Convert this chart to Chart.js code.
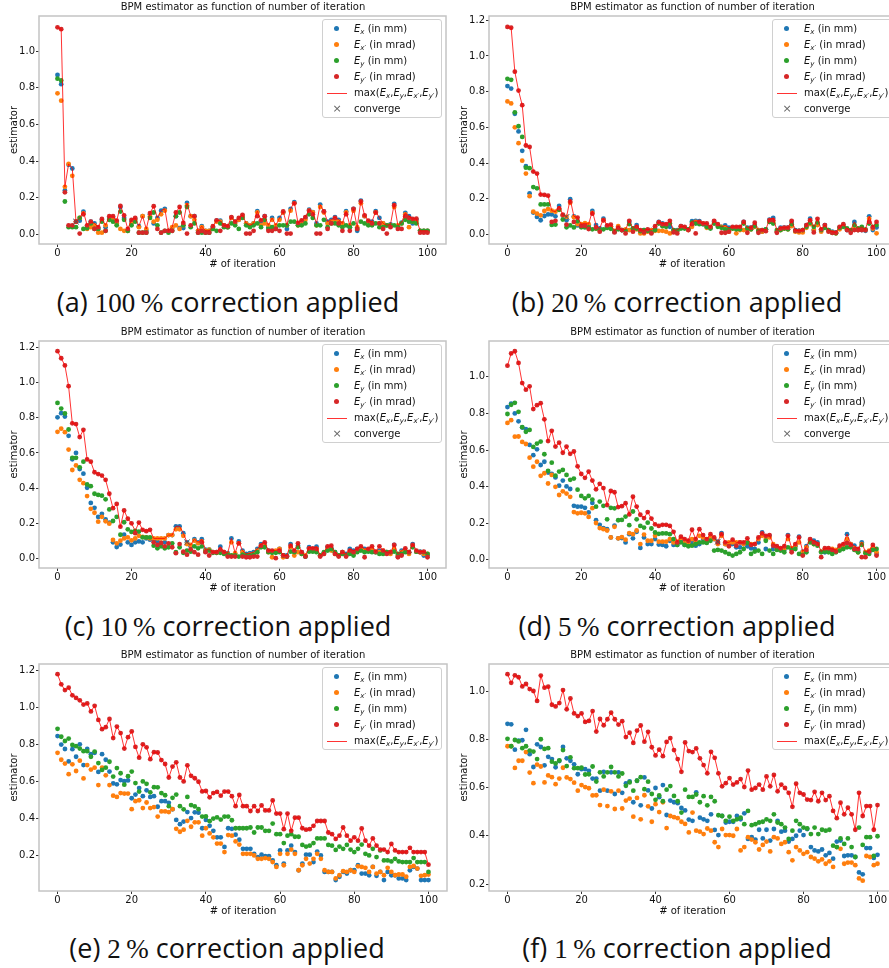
<!DOCTYPE html>
<html>
<head>
<meta charset="utf-8">
<script src="https://cdn.jsdelivr.net/npm/chart.js@4.4.1/dist/chart.umd.min.js"></script>
<style>
  body { margin: 0; width: 889px; height: 968px; overflow: hidden; background: #fff; position: relative; font-family: "DejaVu Sans", sans-serif; }
  canvas { position: absolute; }
  .title { position: absolute; font-size: 10px; line-height: 12px; color: #111; text-align: center; white-space: nowrap; }
  .legend { position: absolute; border: 1px solid #d0d0d0; border-radius: 3px; background: rgba(255,255,255,0.85); font-size: 10px; color: #111; box-sizing: border-box; padding-top: 1px; overflow: hidden; white-space: nowrap; }
  .legend .row { position: relative; height: 16px; line-height: 16px; padding-left: 31px; }
  .legend .dot { position: absolute; left: 11px; top: 5px; width: 5px; height: 5px; border-radius: 50%; }
  .legend .seg { position: absolute; left: 4px; top: 8px; width: 20px; height: 1px; background: rgba(255,0,0,0.8); }
  .legend .cross { position: absolute; left: 8px; top: 0; width: 12px; text-align: center; color: #666; font-size: 11px; }
  .legend sub { font-size: 7px; vertical-align: -2px; line-height: 0; }
  .caption { position: absolute; font-family: "Open Sans", sans-serif; font-size: 27px; line-height: 30px; color: #111; white-space: nowrap; transform: translateX(-50%); }
  .caption .num { font-family: "Liberation Serif", serif; font-size: 27px; }
</style>
</head>
<body>
<script>
// x values: iteration number
const iterations = Array.from({ length: 101 }, (_, i) => i);
const xTicks = [0, 20, 40, 60, 80, 100];

// (a) 100 % correction
const exA = [0.87,0.82,0.24,0.38,0.36,0.07,0.075,0.125,0.04,0.07,
  0.06,0.03,0.08,0.04,0.09,0.09,0.07,0.15,0.09,0.02,
  0.07,0.085,0.045,0.1,0.02,0.11,0.06,0.09,0.13,0.14,
  0.02,0.035,0.1,0.035,0.035,0.172,0.1,0.1,0.02,0.045,
  0.02,0.02,0.04,0.075,0.075,0.05,0.04,0.09,0.07,0.08,
  0.1,0.06,0.05,0.06,0.127,0.07,0.1,0.04,0.09,0.04,
  0.09,0.12,0.03,0.14,0.176,0.06,0.07,0.09,0.135,0.122,
  0.06,0.163,0.126,0.07,0.08,0.095,0.08,0.06,0.127,0.04,
  0.14,0.02,0.185,0.1,0.07,0.07,0.127,0.09,0.06,0.05,
  0.055,0.167,0.045,0.065,0.118,0.1,0.06,0.08,0.02,0.02,
  0.02];
const expA = [0.77,0.73,0.26,0.385,0.32,0.07,0.09,0.115,0.03,0.04,
  0.05,0.01,0.01,0.05,0.08,0.08,0.06,0.03,0.02,0.02,
  0.06,0.08,0.04,0.1,0.03,0.1,0.07,0.08,0.11,0.13,
  0.02,0.04,0.05,0.03,0.05,0.16,0.1,0.08,0.02,0.04,
  0.02,0.02,0.03,0.07,0.07,0.05,0.04,0.09,0.06,0.08,
  0.1,0.06,0.05,0.06,0.12,0.05,0.06,0.05,0.08,0.05,
  0.08,0.12,0.05,0.13,0.17,0.05,0.06,0.08,0.13,0.12,
  0.05,0.15,0.12,0.06,0.07,0.08,0.07,0.06,0.12,0.05,
  0.13,0.04,0.17,0.1,0.06,0.06,0.12,0.06,0.06,0.05,
  0.05,0.15,0.05,0.06,0.11,0.04,0.07,0.07,0.02,0.02,
  0.02];
const eyA = [0.85,0.84,0.18,0.04,0.04,0.04,0.09,0.03,0.035,0.06,
  0.03,0.03,0.07,0.02,0.08,0.07,0.05,0.125,0.08,0.02,
  0.05,0.07,0.01,0.01,0.01,0.09,0.12,0.05,0.01,0.02,
  0.01,0.02,0.1,0.12,0.05,0.15,0.04,0.06,0.01,0.01,
  0.01,0.01,0.03,0.02,0.06,0.04,0.04,0.06,0.05,0.03,
  0.09,0.05,0.04,0.05,0.06,0.04,0.08,0.03,0.04,0.03,
  0.05,0.05,0.05,0.07,0.07,0.05,0.05,0.06,0.11,0.09,
  0.05,0.05,0.08,0.04,0.06,0.06,0.05,0.04,0.05,0.04,
  0.06,0.03,0.07,0.06,0.05,0.05,0.06,0.04,0.04,0.05,
  0.05,0.05,0.04,0.06,0.08,0.07,0.07,0.06,0.02,0.02,
  0.02];
const eypA = [1.13,1.12,0.23,0.05,0.05,0.07,0.005,0.11,0.05,0.07,
  0.03,0.04,0.085,0.02,0.1,0.1,0.075,0.156,0.104,0.03,
  0.08,0.09,0.01,0.01,0.01,0.117,0.154,0.03,0.01,0.02,
  0.02,0.02,0.12,0.15,0.063,0.005,0.05,0.1,0.01,0.02,
  0.01,0.01,0.045,0.077,0.02,0.05,0.045,0.095,0.07,0.09,
  0.107,0.005,0.005,0.02,0.1,0.077,0.1,0.02,0.02,0.03,
  0.02,0.126,0.005,0.005,0.17,0.063,0.077,0.095,0.13,0.11,
  0.005,0.005,0.126,0.03,0.06,0.09,0.06,0.02,0.11,0.02,
  0.14,0.03,0.18,0.104,0.075,0.06,0.12,0.06,0.03,0.005,
  0.04,0.16,0.03,0.03,0.1,0.09,0.085,0.086,0.01,0.01,
  0.01];

// (b) 20 % correction
const exB = [0.831,0.817,0.676,0.577,0.468,0.382,0.230,0.122,0.098,0.079,
  0.103,0.112,0.112,0.101,0.159,0.105,0.079,0.197,0.101,0.050,
  0.052,0.057,0.048,0.131,0.052,0.033,0.088,0.046,0.046,0.015,
  0.033,0.024,0.024,0.070,0.033,0.052,0.015,0.024,0.024,0.024,
  0.033,0.070,0.061,0.052,0.042,0.024,0.024,0.046,0.037,0.028,
  0.074,0.075,0.074,0.057,0.042,0.037,0.072,0.052,0.042,0.050,
  0.037,0.037,0.031,0.033,0.070,0.037,0.037,0.052,0.024,0.015,
  0.028,0.083,0.092,0.015,0.037,0.037,0.037,0.070,0.024,0.020,
  0.024,0.052,0.088,0.024,0.057,0.024,0.052,0.024,0.015,0.011,
  0.037,0.052,0.024,0.020,0.070,0.024,0.024,0.020,0.101,0.024,
  0.039];
const expB = [0.745,0.734,0.600,0.511,0.413,0.341,0.214,0.127,0.116,0.107,
  0.131,0.142,0.133,0.127,0.140,0.107,0.098,0.177,0.096,0.057,
  0.057,0.063,0.057,0.120,0.033,0.024,0.079,0.037,0.046,0.020,
  0.046,0.024,0.028,0.024,0.024,0.028,0.005,0.005,0.015,0.024,
  0.020,0.020,0.020,0.015,0.005,0.015,0.020,0.042,0.037,0.024,
  0.042,0.070,0.065,0.061,0.037,0.037,0.065,0.052,0.042,0.037,
  0.015,0.033,0.006,0.024,0.024,0.028,0.028,0.042,0.024,0.015,
  0.024,0.070,0.070,0.015,0.024,0.033,0.028,0.046,0.015,0.011,
  0.011,0.037,0.057,0.024,0.052,0.015,0.042,0.020,0.011,0.006,
  0.028,0.046,0.028,0.020,0.033,0.024,0.028,0.024,0.088,0.033,
  0.006];
const eyB = [0.872,0.866,0.684,0.606,0.546,0.374,0.371,0.265,0.258,0.168,
  0.168,0.168,0.053,0.055,0.138,0.083,0.040,0.050,0.039,0.074,
  0.040,0.039,0.039,0.028,0.033,0.024,0.028,0.037,0.031,0.015,
  0.028,0.024,0.020,0.057,0.033,0.033,0.018,0.024,0.020,0.011,
  0.024,0.061,0.046,0.042,0.061,0.024,0.020,0.033,0.033,0.028,
  0.065,0.061,0.057,0.057,0.042,0.033,0.061,0.042,0.037,0.028,
  0.028,0.033,0.028,0.028,0.061,0.033,0.028,0.046,0.020,0.024,
  0.028,0.070,0.061,0.024,0.024,0.033,0.028,0.057,0.020,0.020,
  0.024,0.042,0.065,0.042,0.067,0.024,0.037,0.024,0.009,0.006,
  0.037,0.042,0.033,0.024,0.052,0.033,0.042,0.028,0.061,0.042,
  0.052];
const eypB = [1.163,1.158,0.912,0.806,0.724,0.498,0.490,0.352,0.341,0.223,
  0.221,0.217,0.070,0.076,0.146,0.110,0.055,0.183,0.070,0.094,
  0.048,0.048,0.030,0.116,0.039,0.015,0.079,0.050,0.055,0.011,
  0.037,0.024,0.005,0.076,0.015,0.042,0.024,0.011,0.028,0.005,
  0.046,0.068,0.057,0.057,0.076,0.011,0.005,0.046,0.042,0.024,
  0.057,0.005,0.070,0.061,0.061,0.042,0.076,0.057,0.009,0.009,
  0.015,0.042,0.042,0.042,0.070,0.009,0.037,0.065,0.009,0.024,
  0.018,0.079,0.079,0.009,0.033,0.037,0.037,0.076,0.020,0.020,
  0.024,0.052,0.079,0.011,0.087,0.028,0.052,0.015,0.009,0.009,
  0.042,0.057,0.024,0.009,0.024,0.024,0.024,0.024,0.070,0.039,
  0.070];

// (c) 10 % correction
const exC = [0.802,0.826,0.807,0.697,0.564,0.600,0.508,0.482,0.402,0.316,
  0.288,0.236,0.254,0.222,0.204,0.092,0.065,0.079,0.135,0.092,
  0.077,0.092,0.097,0.092,0.114,0.107,0.105,0.099,0.086,0.092,
  0.133,0.133,0.183,0.183,0.144,0.092,0.069,0.110,0.092,0.110,
  0.050,0.050,0.036,0.036,0.067,0.036,0.030,0.114,0.026,0.097,
  0.045,0.026,0.030,0.036,0.054,0.082,0.082,0.045,0.039,0.039,
  0.054,0.017,0.017,0.082,0.039,0.073,0.036,0.011,0.064,0.050,
  0.067,0.017,0.030,0.064,0.058,0.036,0.017,0.036,0.026,0.054,
  0.045,0.054,0.058,0.054,0.045,0.054,0.036,0.045,0.036,0.036,
  0.036,0.077,0.011,0.045,0.039,0.036,0.082,0.039,0.039,0.017,
  0.017];
const expC = [0.720,0.738,0.718,0.619,0.503,0.529,0.447,0.428,0.355,0.282,
  0.260,0.209,0.237,0.211,0.198,0.105,0.086,0.101,0.114,0.120,
  0.103,0.114,0.129,0.123,0.120,0.114,0.114,0.114,0.114,0.114,
  0.133,0.133,0.166,0.166,0.129,0.082,0.077,0.101,0.086,0.097,
  0.045,0.050,0.036,0.032,0.039,0.036,0.026,0.092,0.030,0.086,
  0.036,0.017,0.022,0.026,0.045,0.073,0.073,0.036,0.007,0.045,
  0.054,0.007,0.011,0.064,0.017,0.036,0.026,0.017,0.054,0.045,
  0.054,0.017,0.026,0.054,0.045,0.026,0.017,0.036,0.017,0.036,
  0.026,0.045,0.058,0.045,0.045,0.054,0.036,0.036,0.045,0.036,
  0.026,0.054,0.017,0.036,0.045,0.026,0.073,0.039,0.036,0.026,
  0.026];
const eyC = [0.884,0.852,0.824,0.733,0.572,0.572,0.518,0.550,0.421,0.411,
  0.368,0.361,0.357,0.336,0.279,0.213,0.236,0.135,0.206,0.166,
  0.151,0.157,0.153,0.120,0.120,0.120,0.073,0.058,0.069,0.058,
  0.064,0.086,0.036,0.064,0.032,0.045,0.039,0.069,0.058,0.069,
  0.039,0.045,0.032,0.032,0.032,0.026,0.022,0.017,0.017,0.011,
  0.022,0.017,0.017,0.022,0.036,0.064,0.064,0.036,0.032,0.032,
  0.036,0.017,0.011,0.039,0.036,0.064,0.026,0.011,0.039,0.039,
  0.036,0.017,0.036,0.045,0.054,0.036,0.017,0.026,0.017,0.026,
  0.017,0.036,0.045,0.036,0.039,0.036,0.036,0.026,0.026,0.036,
  0.036,0.039,0.026,0.026,0.036,0.036,0.064,0.039,0.036,0.036,
  0.026];
const eypC = [1.178,1.138,1.097,0.979,0.768,0.764,0.690,0.731,0.563,0.550,
  0.490,0.480,0.471,0.447,0.368,0.286,0.310,0.181,0.273,0.226,
  0.200,0.144,0.204,0.163,0.155,0.163,0.092,0.077,0.088,0.069,
  0.086,0.064,0.030,0.082,0.039,0.022,0.052,0.036,0.022,0.092,
  0.036,0.017,0.036,0.036,0.050,0.036,0.011,0.011,0.011,0.086,
  0.011,0.007,0.007,0.011,0.011,0.073,0.092,0.045,0.045,0.002,
  0.045,0.017,0.011,0.073,0.045,0.086,0.036,0.011,0.058,0.058,
  0.054,0.011,0.026,0.069,0.073,0.026,0.011,0.036,0.011,0.045,
  0.036,0.054,0.069,0.007,0.054,0.069,0.039,0.069,0.045,0.026,
  0.036,0.077,0.007,0.017,0.058,0.036,0.077,0.045,0.036,0.039,
  0.007];

// (d) 5 % correction
const exD = [0.835,0.854,0.800,0.757,0.723,0.714,0.628,0.572,0.604,0.518,
  0.536,0.477,0.469,0.450,0.405,0.433,0.401,0.387,0.295,0.290,
  0.291,0.284,0.259,0.311,0.216,0.191,0.173,0.167,0.122,0.187,
  0.117,0.119,0.095,0.140,0.117,0.153,0.065,0.122,0.086,0.086,
  0.113,0.083,0.081,0.074,0.104,0.081,0.081,0.099,0.081,0.081,
  0.095,0.077,0.086,0.113,0.104,0.113,0.113,0.099,0.146,0.086,
  0.081,0.086,0.068,0.068,0.086,0.074,0.063,0.059,0.095,0.149,
  0.059,0.131,0.059,0.059,0.054,0.054,0.135,0.059,0.074,0.126,
  0.045,0.074,0.110,0.104,0.095,0.045,0.041,0.050,0.050,0.050,
  0.068,0.077,0.140,0.086,0.077,0.050,0.095,0.041,0.041,0.059,
  0.032];
const expD = [0.748,0.763,0.673,0.674,0.644,0.633,0.558,0.509,0.536,0.459,
  0.473,0.417,0.464,0.399,0.354,0.374,0.362,0.344,0.261,0.254,
  0.257,0.254,0.234,0.282,0.201,0.173,0.167,0.160,0.122,0.180,
  0.117,0.124,0.110,0.146,0.140,0.160,0.086,0.138,0.104,0.104,
  0.131,0.099,0.099,0.099,0.113,0.095,0.099,0.117,0.095,0.095,
  0.113,0.095,0.131,0.122,0.104,0.122,0.113,0.086,0.131,0.086,
  0.095,0.095,0.095,0.095,0.086,0.095,0.086,0.086,0.113,0.131,
  0.113,0.122,0.086,0.059,0.059,0.059,0.113,0.063,0.077,0.095,
  0.041,0.068,0.104,0.086,0.086,0.045,0.059,0.059,0.059,0.054,
  0.059,0.077,0.113,0.086,0.063,0.041,0.086,0.041,0.050,0.068,
  0.041];
const eyD = [0.797,0.847,0.858,0.809,0.725,0.700,0.710,0.617,0.635,0.646,
  0.577,0.486,0.531,0.460,0.482,0.491,0.464,0.437,0.444,0.383,
  0.349,0.336,0.349,0.329,0.290,0.318,0.295,0.221,0.284,0.281,
  0.216,0.218,0.236,0.189,0.264,0.221,0.185,0.176,0.203,0.171,
  0.149,0.142,0.144,0.144,0.140,0.113,0.081,0.095,0.081,0.074,
  0.077,0.086,0.095,0.095,0.092,0.104,0.050,0.054,0.050,0.041,
  0.032,0.023,0.032,0.041,0.059,0.092,0.032,0.045,0.050,0.032,
  0.104,0.050,0.032,0.054,0.050,0.041,0.068,0.054,0.059,0.032,
  0.027,0.041,0.095,0.086,0.077,0.041,0.045,0.041,0.032,0.041,
  0.050,0.059,0.068,0.068,0.054,0.041,0.081,0.036,0.032,0.054,
  0.059];
const eypD = [1.061,1.128,1.140,1.076,0.966,0.930,0.948,0.824,0.845,0.856,
  0.768,0.649,0.705,0.619,0.640,0.585,0.619,0.579,0.592,0.511,
  0.469,0.448,0.482,0.433,0.385,0.415,0.392,0.299,0.376,0.369,
  0.288,0.293,0.309,0.248,0.345,0.291,0.246,0.228,0.261,0.225,
  0.194,0.185,0.191,0.191,0.185,0.153,0.095,0.126,0.113,0.104,
  0.164,0.113,0.167,0.135,0.113,0.140,0.122,0.095,0.140,0.095,
  0.074,0.110,0.077,0.095,0.095,0.117,0.081,0.086,0.122,0.144,
  0.131,0.135,0.077,0.074,0.063,0.074,0.131,0.041,0.086,0.122,
  0.023,0.054,0.113,0.095,0.086,0.014,0.063,0.063,0.054,0.045,
  0.077,0.086,0.092,0.081,0.059,0.059,0.014,0.014,0.045,0.081,
  0.023];

// (e) 2 % correction
const exE = [0.845,0.799,0.775,0.708,0.774,0.733,0.800,0.688,0.775,0.747,
  0.754,0.651,0.747,0.717,0.653,0.589,0.584,0.607,0.601,0.605,
  0.509,0.529,0.564,0.520,0.552,0.516,0.520,0.463,0.493,0.493,
  0.484,0.449,0.392,0.369,0.383,0.434,0.402,0.433,0.431,0.347,
  0.392,0.360,0.333,0.298,0.298,0.246,0.347,0.344,0.312,0.285,
  0.236,0.236,0.236,0.209,0.191,0.204,0.196,0.196,0.173,0.147,
  0.227,0.156,0.227,0.253,0.218,0.120,0.156,0.204,0.204,0.164,
  0.221,0.200,0.111,0.111,0.111,0.067,0.085,0.111,0.102,0.120,
  0.120,0.147,0.102,0.102,0.093,0.138,0.090,0.111,0.067,0.111,
  0.093,0.093,0.076,0.076,0.067,0.120,0.138,0.129,0.067,0.067,
  0.067];
const expE = [0.754,0.717,0.696,0.639,0.692,0.656,0.712,0.616,0.688,0.664,
  0.674,0.580,0.674,0.633,0.580,0.523,0.516,0.537,0.534,0.534,
  0.450,0.493,0.498,0.456,0.486,0.456,0.461,0.410,0.438,0.438,
  0.434,0.450,0.344,0.328,0.339,0.387,0.355,0.379,0.379,0.307,
  0.347,0.319,0.298,0.264,0.264,0.218,0.310,0.307,0.276,0.259,
  0.209,0.209,0.209,0.200,0.182,0.182,0.186,0.182,0.164,0.138,
  0.209,0.147,0.209,0.232,0.209,0.120,0.147,0.182,0.156,0.182,
  0.209,0.182,0.120,0.111,0.111,0.076,0.093,0.115,0.111,0.120,
  0.111,0.141,0.138,0.133,0.111,0.138,0.102,0.111,0.093,0.133,
  0.111,0.093,0.097,0.097,0.085,0.138,0.143,0.129,0.090,0.093,
  0.097];
const eyE = [0.884,0.841,0.818,0.831,0.797,0.790,0.777,0.763,0.763,0.733,
  0.761,0.699,0.662,0.674,0.706,0.626,0.672,0.644,0.582,0.628,
  0.653,0.591,0.545,0.600,0.587,0.541,0.569,0.568,0.537,0.525,
  0.466,0.511,0.529,0.466,0.449,0.516,0.472,0.465,0.450,0.410,
  0.411,0.385,0.399,0.406,0.394,0.410,0.410,0.390,0.347,0.347,
  0.347,0.347,0.351,0.324,0.351,0.351,0.333,0.333,0.372,0.315,
  0.315,0.267,0.307,0.315,0.301,0.301,0.257,0.248,0.253,0.267,
  0.292,0.292,0.292,0.257,0.253,0.230,0.248,0.236,0.257,0.232,
  0.218,0.236,0.259,0.209,0.200,0.236,0.191,0.227,0.173,0.173,
  0.168,0.182,0.168,0.164,0.164,0.164,0.186,0.164,0.164,0.164,
  0.111];
const eypE = [1.179,1.124,1.093,1.106,1.065,1.051,1.038,1.015,1.021,0.978,
  1.008,0.932,0.882,0.893,0.937,0.834,0.896,0.861,0.777,0.839,
  0.870,0.786,0.728,0.800,0.784,0.720,0.758,0.756,0.715,0.694,
  0.621,0.680,0.703,0.621,0.600,0.687,0.630,0.617,0.598,0.546,
  0.548,0.514,0.537,0.543,0.523,0.545,0.545,0.520,0.466,0.527,
  0.466,0.466,0.440,0.466,0.440,0.470,0.443,0.443,0.497,0.426,
  0.426,0.342,0.426,0.333,0.404,0.404,0.347,0.339,0.342,0.360,
  0.386,0.386,0.386,0.324,0.315,0.289,0.307,0.351,0.307,0.280,
  0.298,0.280,0.346,0.280,0.253,0.292,0.253,0.232,0.232,0.218,
  0.262,0.227,0.218,0.218,0.218,0.241,0.218,0.218,0.218,0.218,
  0.150];

// (f) 1 % correction
const exF = [0.864,0.862,0.757,0.794,0.796,0.839,0.738,0.685,0.779,0.768,
  0.692,0.727,0.718,0.684,0.710,0.768,0.721,0.711,0.696,0.655,
  0.676,0.676,0.669,0.637,0.637,0.587,0.665,0.587,0.663,0.573,
  0.663,0.578,0.617,0.625,0.539,0.628,0.526,0.642,0.588,0.513,
  0.598,0.560,0.610,0.486,0.546,0.539,0.535,0.515,0.505,0.467,
  0.462,0.580,0.475,0.468,0.462,0.489,0.424,0.403,0.482,0.455,
  0.458,0.458,0.482,0.468,0.493,0.387,0.394,0.384,0.425,0.389,
  0.425,0.380,0.428,0.462,0.417,0.421,0.376,0.387,0.400,0.421,
  0.403,0.428,0.353,0.339,0.335,0.343,0.319,0.329,0.305,0.376,
  0.380,0.316,0.319,0.319,0.312,0.248,0.240,0.349,0.349,0.308,
  0.321];
const expF = [0.771,0.771,0.681,0.711,0.711,0.747,0.662,0.618,0.695,0.687,
  0.621,0.650,0.643,0.614,0.637,0.682,0.642,0.635,0.620,0.587,
  0.610,0.602,0.597,0.567,0.568,0.527,0.591,0.523,0.584,0.511,
  0.587,0.513,0.546,0.554,0.479,0.557,0.468,0.568,0.522,0.458,
  0.531,0.498,0.539,0.432,0.482,0.477,0.473,0.458,0.449,0.414,
  0.496,0.421,0.417,0.407,0.430,0.421,0.373,0.353,0.428,0.403,
  0.403,0.400,0.428,0.339,0.353,0.394,0.384,0.373,0.343,0.362,
  0.376,0.335,0.394,0.389,0.366,0.373,0.332,0.298,0.353,0.339,
  0.325,0.332,0.312,0.305,0.294,0.302,0.284,0.294,0.271,0.353,
  0.346,0.284,0.289,0.289,0.278,0.223,0.214,0.316,0.312,0.278,
  0.284];
const eyF = [0.802,0.771,0.797,0.791,0.763,0.771,0.753,0.749,0.718,0.800,
  0.760,0.763,0.707,0.700,0.712,0.755,0.689,0.725,0.680,0.680,
  0.682,0.654,0.655,0.687,0.625,0.663,0.646,0.663,0.685,0.663,
  0.646,0.658,0.607,0.621,0.587,0.628,0.643,0.593,0.624,0.573,
  0.549,0.567,0.543,0.591,0.606,0.565,0.543,0.496,0.591,0.561,
  0.561,0.571,0.539,0.564,0.526,0.561,0.543,0.485,0.482,0.462,
  0.479,0.462,0.468,0.475,0.448,0.503,0.444,0.448,0.455,0.458,
  0.468,0.462,0.489,0.455,0.448,0.434,0.387,0.421,0.462,0.448,
  0.434,0.430,0.407,0.434,0.407,0.425,0.421,0.425,0.359,0.353,
  0.389,0.366,0.389,0.353,0.312,0.434,0.362,0.394,0.394,0.316,
  0.398];
const eypF = [1.070,1.034,1.065,1.057,1.019,1.029,1.008,1.000,0.959,1.064,
  1.014,1.018,0.943,0.936,0.950,1.004,0.924,0.969,0.907,0.896,
  0.907,0.872,0.876,0.917,0.832,0.884,0.858,0.883,0.910,0.883,
  0.861,0.875,0.809,0.827,0.785,0.836,0.857,0.790,0.831,0.767,
  0.733,0.757,0.730,0.789,0.805,0.755,0.718,0.665,0.787,0.751,
  0.747,0.762,0.721,0.693,0.659,0.748,0.723,0.659,0.605,0.618,
  0.639,0.612,0.621,0.635,0.602,0.670,0.591,0.598,0.612,0.591,
  0.646,0.605,0.652,0.584,0.612,0.598,0.578,0.520,0.616,0.578,
  0.571,0.550,0.548,0.582,0.543,0.578,0.548,0.564,0.503,0.473,
  0.537,0.489,0.516,0.489,0.425,0.578,0.482,0.523,0.523,0.425,
  0.527];

// iteration flagged as "converge" in each panel (none in e, f)
const convergeIter = [5, 16, 35, 57, null, null];

// y tick labels per panel
const yTicksA = [0.0, 0.2, 0.4, 0.6, 0.8, 1.0];
const yTicksB = [0.0, 0.2, 0.4, 0.6, 0.8, 1.0, 1.2];
const yTicksC = [0.0, 0.2, 0.4, 0.6, 0.8, 1.0, 1.2];
const yTicksD = [0.0, 0.2, 0.4, 0.6, 0.8, 1.0];
const yTicksE = [0.2, 0.4, 0.6, 0.8, 1.0, 1.2];
const yTicksF = [0.2, 0.4, 0.6, 0.8, 1.0];

const captionTags = ['(a)', '(b)', '(c)', '(d)', '(e)', '(f)'];
const corrections = ['100', '20', '10', '5', '2', '1'];
const chartTitle = 'BPM estimator as function of number of iteration';
const legendLabels = [
  '<i>E</i><sub><i>x</i></sub> (in mm)',
  '<i>E</i><sub><i>x</i>\u2032</sub> (in mrad)',
  '<i>E</i><sub><i>y</i></sub> (in mm)',
  '<i>E</i><sub><i>y</i>\u2032</sub> (in mrad)',
  'max(<i>E</i><sub><i>x</i></sub>,<i>E</i><sub><i>y</i></sub>,<i>E</i><sub><i>x</i>\u2032</sub>,<i>E</i><sub><i>y</i>\u2032</sub>)',
  'converge'
];
const colors = ['#1f77b4', '#ff7f0e', '#2ca02c', '#d62728'];

const panels = [
  { series: [exA, expA, eyA, eypA], yTicks: yTicksA, yMin: -0.052, yMax: 1.192, box: [39, 13, 447, 244], capX: 228, capY: 287 },
  { series: [exB, expB, eyB, eypB], yTicks: yTicksB, yMin: -0.054, yMax: 1.224, box: [489, 13, 896, 244], capX: 677, capY: 287 },
  { series: [exC, expC, eyC, eypC], yTicks: yTicksC, yMin: -0.054, yMax: 1.236, box: [39, 338, 447, 568], capX: 228, capY: 611 },
  { series: [exD, expD, eyD, eypD], yTicks: yTicksD, yMin: -0.045, yMax: 1.196, box: [489, 338, 896, 568], capX: 677, capY: 611 },
  { series: [exE, expE, eyE, eypE], yTicks: yTicksE, yMin: 0.008, yMax: 1.234, box: [39, 661, 447, 891], capX: 227, capY: 933 },
  { series: [exF, expF, eyF, eypF], yTicks: yTicksF, yMin: 0.171, yMax: 1.112, box: [489, 661, 896, 891], capX: 677, capY: 933 }
];

Chart.defaults.font.family = '"DejaVu Sans", sans-serif';
Chart.defaults.font.size = 10;
Chart.defaults.color = '#111';

const frame = {
  id: 'frame',
  afterDraw(chart) {
    const { ctx, chartArea: a } = chart;
    ctx.save();
    ctx.strokeStyle = '#c4c4c4';
    ctx.lineWidth = 1.5;
    ctx.strokeRect(a.left, a.top, a.right - a.left, a.bottom - a.top);
    ctx.restore();
  }
};

const Y_W = 35, X_H = 30, PAD = 4;

function pts(arr) {
  return arr.map((v, i) => ({ x: iterations[i], y: v }));
}

panels.forEach((p, k) => {
  const [L, T, R, B] = p.box;
  const canvas = document.createElement('canvas');
  canvas.width = Y_W + (R - L) + PAD;
  canvas.height = PAD + (B - T) + X_H;
  canvas.style.left = (L - Y_W) + 'px';
  canvas.style.top = (T - PAD) + 'px';
  document.body.appendChild(canvas);

  const maxLine = iterations.map(i => Math.max(p.series[0][i], p.series[1][i], p.series[2][i], p.series[3][i]));

  const datasets = p.series.map((s, j) => ({
    label: 'E' + j,
    data: pts(s),
    backgroundColor: colors[j],
    borderColor: colors[j],
    borderWidth: 0,
    pointRadius: 2.4,
    order: 10 - j
  }));
  datasets.push({
    label: 'max',
    data: pts(maxLine),
    showLine: true,
    borderColor: 'rgba(255,0,0,0.8)',
    borderWidth: 1,
    pointRadius: 0,
    order: 1
  });
  const c = convergeIter[k];
  if (c !== null) {
    datasets.push({
      label: 'converge',
      data: [{ x: c, y: maxLine[c] }],
      pointStyle: 'crossRot',
      pointRadius: 4,
      borderColor: '#555',
      backgroundColor: '#555',
      borderWidth: 1,
      order: 0
    });
  }

  new Chart(canvas, {
    type: 'scatter',
    data: { datasets },
    options: {
      animation: false,
      responsive: false,
      layout: { padding: { top: PAD, right: PAD, left: 0, bottom: 0 } },
      plugins: { legend: { display: false }, tooltip: { enabled: false } },
      scales: {
        x: {
          type: 'linear',
          min: -5,
          max: 105,
          afterBuildTicks: s => { s.ticks = xTicks.map(v => ({ value: v })); },
          afterFit: s => { s.height = X_H; },
          grid: { drawOnChartArea: false, drawTicks: true, tickLength: 3, tickColor: '#333' },
          border: { display: false },
          ticks: { padding: 0, maxRotation: 0, callback: v => String(v) },
          title: { display: true, text: '# of iteration', padding: { top: 0, bottom: 4 } }
        },
        y: {
          type: 'linear',
          min: p.yMin,
          max: p.yMax,
          afterBuildTicks: s => { s.ticks = p.yTicks.map(v => ({ value: v })); },
          afterFit: s => { s.width = Y_W; },
          grid: { drawOnChartArea: false, drawTicks: true, tickLength: 3, tickColor: '#333' },
          border: { display: false },
          ticks: { padding: 1, callback: v => v.toFixed(1) },
          title: { display: true, text: 'estimator', padding: { top: 4, bottom: 0 } }
        }
      }
    },
    plugins: [frame]
  });

  // title
  const t = document.createElement('div');
  t.className = 'title';
  t.textContent = chartTitle;
  t.style.left = L + 'px';
  t.style.width = (R - L) + 'px';
  t.style.top = (T - 12) + 'px';
  document.body.appendChild(t);

  // legend
  const rows = c !== null ? 6 : 5;
  const lg = document.createElement('div');
  lg.className = 'legend';
  lg.style.left = (L + 283) + 'px';
  lg.style.top = (T + 6) + 'px';
  lg.style.width = '120px';
  lg.style.height = (rows * 16 + 3) + 'px';
  let html = '';
  for (let r = 0; r < rows; r++) {
    let mark;
    if (r < 4) mark = '<span class="dot" style="background:' + colors[r] + '"></span>';
    else if (r === 4) mark = '<span class="seg"></span>';
    else mark = '<span class="cross">\u00d7</span>';
    html += '<div class="row">' + mark + legendLabels[r] + '</div>';
  }
  lg.innerHTML = html;
  document.body.appendChild(lg);

  // caption
  const cap = document.createElement('div');
  cap.className = 'caption';
  cap.style.left = p.capX + 'px';
  cap.style.top = p.capY + 'px';
  cap.innerHTML = captionTags[k] + ' <span class="num">' + corrections[k] + '\u2009%</span> correction applied';
  document.body.appendChild(cap);
});
</script>
</body>
</html>
